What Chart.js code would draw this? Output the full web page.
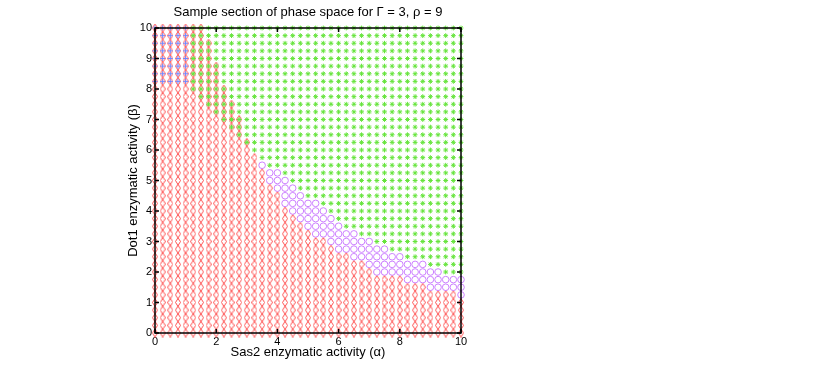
<!DOCTYPE html>
<html>
<head>
<meta charset="utf-8">
<title>Sample section of phase space</title>
<script src="https://cdn.jsdelivr.net/npm/chart.js@4.4.0/dist/chart.umd.min.js"></script>
<style>
  html, body { margin: 0; padding: 0; background: #fff; }
  #chart { display: block; }
</style>
</head>
<body>
<canvas id="chart" width="817" height="375"></canvas>
<script>
'use strict';

// ***** DATA *****
// the grid runs 0..10 in steps of 0.25 on both axes -> column / row index 0..40
const GRID_STEP = 0.25;
const GRID_LAST = 40;

// one entry per beta row, index 0 = beta 0 ... index 40 = beta 10
// last alpha column with a red diamond
const redLastCol = [40, 40, 40, 40, 40, 39, 35, 32, 28, 27,
                    25, 23, 22, 20, 19, 18, 17, 16, 16, 15,
                    14, 14, 13, 13, 12, 12, 11, 11, 11, 10,
                    10, 9, 9, 8, 8, 8, 7, 7, 7, 6,
                    6];
// first alpha column with a green star (41 = none in that row)
const greenFirstCol = [41, 41, 41, 41, 41, 41, 41, 41, 38, 36,
                       33, 31, 29, 27, 25, 24, 23, 22, 20, 19,
                       18, 17, 15, 14, 13, 12, 11, 10, 9, 8,
                       7, 6, 5, 5, 5, 5, 5, 5, 5, 5,
                       5];
// last alpha column with a blue plus (-1 = none in that row)
const blueLastCol = [-1, -1, -1, -1, -1, -1, -1, -1, -1, -1,
                     -1, -1, -1, -1, -1, -1, -1, -1, -1, -1,
                     -1, -1, -1, -1, -1, -1, -1, -1, -1, -1,
                     -1, -1, -1, 4, 4, 4, 4, 4, 4, 4,
                     4];

const xTickStep = 2;
const yTickStep = 1;
const chartTitle = 'Sample section of phase space for \u0393 = 3, \u03C1 = 9';
const xTitle = 'Sas2 enzymatic activity (\u03B1)';
const yTitle = 'Dot1 enzymatic activity (\u03B2)';

// ***** BUILD POINT LISTS *****
function pointsInRow(row, fromCol, toCol) {
  let pts = [];
  for (let c = fromCol; c <= toCol; c++) {
    pts.push({ x: c * GRID_STEP, y: row * GRID_STEP });
  }
  return pts;
}

let redPts = [];
let greenPts = [];
let bluePts = [];
let purplePts = [];
for (let r = 0; r < redLastCol.length; r++) {
  redPts = redPts.concat(pointsInRow(r, 0, redLastCol[r]));
  greenPts = greenPts.concat(pointsInRow(r, greenFirstCol[r], GRID_LAST));
  bluePts = bluePts.concat(pointsInRow(r, 0, blueLastCol[r]));
  // circles fill the gap between the red and the green zone
  purplePts = purplePts.concat(pointsInRow(r, redLastCol[r] + 1, greenFirstCol[r] - 1));
}

// narrow, tall diamond like the matlab marker
function makeDiamond(color) {
  const c = document.createElement('canvas');
  c.width = 6;
  c.height = 9;
  const g = c.getContext('2d');
  g.strokeStyle = color;
  g.lineWidth = 1;
  g.beginPath();
  g.moveTo(3, 0.5);
  g.lineTo(5.5, 4.5);
  g.lineTo(3, 8.5);
  g.lineTo(0.5, 4.5);
  g.closePath();
  g.stroke();
  return c;
}

// box + inward ticks on all four sides
const boxTicks = {
  id: 'boxTicks',
  afterDatasetsDraw(chart) {
    const { ctx, chartArea: a, scales: { x, y } } = chart;
    const len = 4;
    ctx.save();
    ctx.strokeStyle = '#000';
    ctx.lineWidth = 1.5;
    ctx.strokeRect(a.left, a.top, a.right - a.left, a.bottom - a.top);
    ctx.beginPath();
    x.ticks.forEach(t => {
      const px = x.getPixelForValue(t.value);
      ctx.moveTo(px, a.bottom); ctx.lineTo(px, a.bottom - len);
      ctx.moveTo(px, a.top); ctx.lineTo(px, a.top + len);
    });
    y.ticks.forEach(t => {
      const py = y.getPixelForValue(t.value);
      ctx.moveTo(a.left, py); ctx.lineTo(a.left + len, py);
      ctx.moveTo(a.right, py); ctx.lineTo(a.right - len, py);
    });
    ctx.stroke();
    ctx.restore();
  }
};

const FONT = "'Liberation Sans', Arial, Helvetica, sans-serif";

const ctx = document.getElementById('chart').getContext('2d');
let myChart = new Chart(ctx, { //eslint-disable-line
  type: 'scatter',
  data: {
    datasets: [
      {
        label: 'plus',
        data: bluePts,
        pointStyle: 'cross',
        pointRadius: 2.5,
        borderColor: '#6f86ff',
        borderWidth: 1,
        clip: false
      },
      {
        label: 'star',
        data: greenPts,
        pointStyle: 'star',
        pointRadius: 2.4,
        borderColor: '#66e43c',
        borderWidth: 1,
        clip: false
      },
      {
        label: 'circle',
        data: purplePts,
        pointStyle: 'circle',
        pointRadius: 3.3,
        borderColor: '#cc80ff',
        backgroundColor: 'rgba(0,0,0,0)',
        borderWidth: 1,
        clip: false
      },
      {
        label: 'diamond',
        data: redPts,
        pointStyle: makeDiamond('#ff5252'),
        pointRadius: 4,
        clip: false
      }
    ]
  },
  plugins: [boxTicks],
  options: {
    responsive: false,
    animation: false,
    devicePixelRatio: 1,
    layout: { padding: { left: 120, right: 356, top: 0, bottom: 0 } },
    plugins: {
      legend: { display: false },
      tooltip: { enabled: false },
      title: {
        display: true,
        text: chartTitle,
        fullSize: false,
        color: '#000',
        font: { family: FONT, size: 13, weight: 'normal' },
        padding: { top: 5, bottom: 7.4 }
      }
    },
    scales: {
      x: {
        type: 'linear',
        min: 0,
        max: 10,
        ticks: { stepSize: xTickStep, color: '#000', padding: 2, font: { family: FONT, size: 11 } },
        grid: { display: false, drawTicks: false },
        border: { display: false },
        title: {
          display: true,
          text: xTitle,
          color: '#000',
          font: { family: FONT, size: 13 },
          padding: { top: 0, bottom: 15.2 }
        },
        afterFit(s) { s.height = 42; }
      },
      y: {
        type: 'linear',
        min: 0,
        max: 10,
        ticks: { stepSize: yTickStep, color: '#000', padding: 3, font: { family: FONT, size: 11 } },
        grid: { display: false, drawTicks: false },
        border: { display: false },
        title: {
          display: true,
          text: yTitle,
          color: '#000',
          font: { family: FONT, size: 13 },
          padding: { top: 5.2, bottom: 0 }
        },
        afterFit(s) { s.width = 35; }
      }
    }
  }
});
</script>
</body>
</html>
